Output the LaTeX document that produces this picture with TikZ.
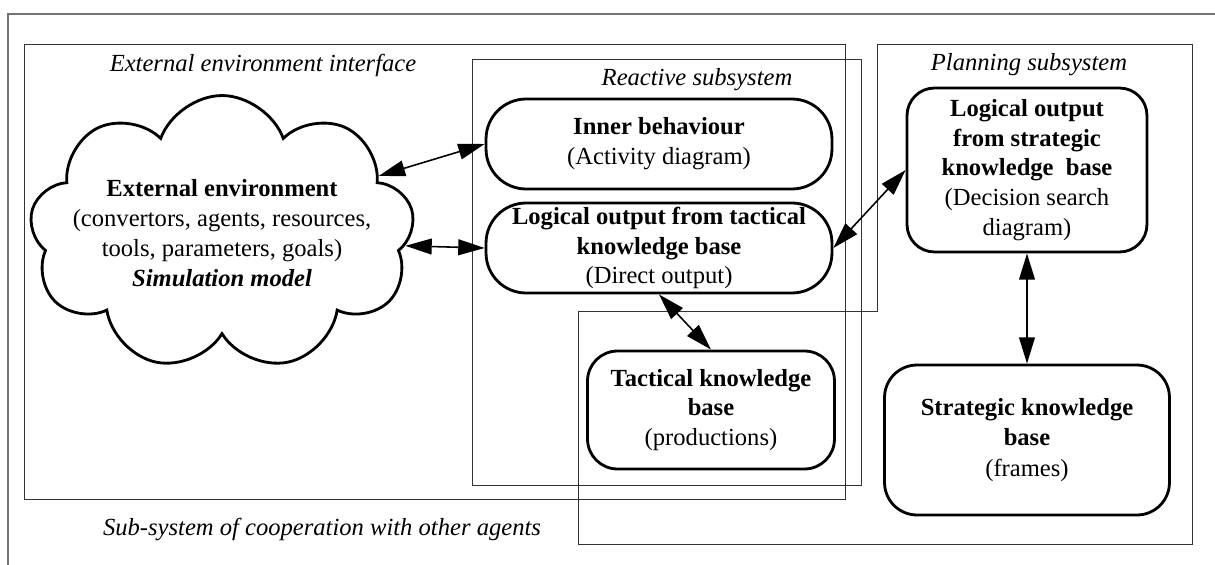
\documentclass[tikz,border=0pt]{standalone}
\usepackage{fontspec}
\setmainfont{Liberation Serif}
\usetikzlibrary{shapes.symbols,arrows.meta}

\begin{document}
\begin{tikzpicture}[x=0.02cm, y=-0.02cm,
    every node/.style={font=\fontsize{14}{17}\selectfont, inner sep=0pt},
    frame/.style={draw=black!80, line width=0.5pt},
    caption/.style={font=\fontsize{14}{17}\selectfont\itshape},
    block/.style={draw, line width=1.6pt, align=center},
    link/.style={{Triangle[length=15pt,width=9pt]}-{Triangle[length=15pt,width=9pt]}, line width=0.9pt}
]
\useasboundingbox (0,0) rectangle (1215,565);

% frames of the subsystems
\draw[draw=black!55, line width=0.6pt] (1215,14) -- (8,14) -- (8,565);
\draw[frame] (24,44) rectangle (845,499);
\draw[frame] (472,59) rectangle (861,485);
\draw[frame] (578,311) -- (877,311) -- (877,44) -- (1192,44) -- (1192,544) -- (578,544) -- cycle;

\node[caption] (ifacelbl) at (263,65) {External environment interface};
\node[caption] (reactlbl) at (697,80) {Reactive subsystem};
\node[caption] (planlbl) at (1029,65) {Planning subsystem};
\node[caption] (cooplbl) at (322,529) {Sub-system of cooperation with other agents};

% external environment
\node[cloud, draw, line width=1.6pt, cloud puffs=9, cloud puff arc=140,
      minimum width=7.7cm, minimum height=5.5cm] (cloud) at (222,233) {};
\node[align=center] (envtext) at (222,233)
    {\textbf{External environment}\\(convertors, agents, resources,\\tools, parameters, goals)\\\textbf{\itshape Simulation model}};

% reactive subsystem
\node[block, rounded corners=0.8cm, minimum width=6.92cm, minimum height=1.8cm] (inner) at (659,144)
    {\textbf{Inner behaviour}\\(Activity diagram)};
\node[block, rounded corners=0.8cm, minimum width=6.92cm, minimum height=1.8cm] (tlog) at (659,248)
    {\textbf{Logical output from tactical}\\\textbf{knowledge base}\\(Direct output)};
\node[block, rounded corners=0.6cm, minimum width=4.94cm, minimum height=2.36cm] (tkb) at (711,410)
    {\textbf{Tactical knowledge}\\\textbf{base}\\(productions)};

% planning subsystem
\node[block, rounded corners=0.55cm, minimum width=4.8cm, minimum height=3.28cm] (slog) at (1027,170)
    {\textbf{Logical output}\\\textbf{from strategic}\\\textbf{knowledge~ base}\\(Decision search\\diagram)};
\node[block, rounded corners=0.65cm, minimum width=5.7cm, minimum height=3cm] (skb) at (1027,440)
    {\textbf{Strategic knowledge}\\\textbf{base}\\[1pt](frames)};

\draw[link] (cloud.20) -- (inner.west);
\draw[link] (cloud.-4) -- (tlog.west);
\draw[link] (tlog.east) -- (slog.west);
\draw[link] (tlog.south) -- (tkb.north);
\draw[link] (slog.south) -- (skb.north);

\end{tikzpicture}
\end{document}
